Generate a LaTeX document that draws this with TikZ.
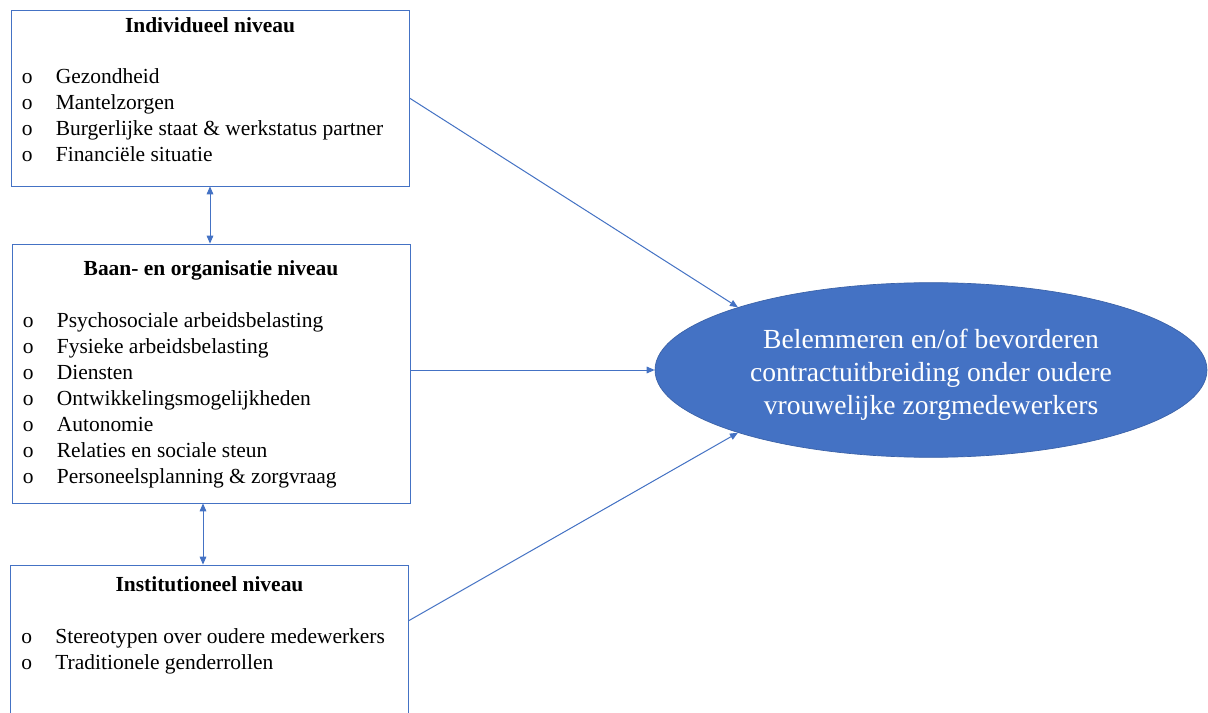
\documentclass[tikz,border=0pt]{standalone}
\usepackage{fontspec}
\setmainfont{Liberation Serif}
\usetikzlibrary{positioning,calc,arrows.meta,shapes.geometric}

\definecolor{wordblue}{RGB}{68,114,196}
\newcommand{\lvlitem}[1]{\makebox[25.5pt][l]{o}#1}

\begin{document}
\begin{tikzpicture}[x=0.75pt,y=0.75pt,yscale=-1,xscale=1,
  levelbox/.style={draw=wordblue, line width=0.6pt, minimum width=298.5pt, inner sep=0pt},
  leveltitle/.style={inner sep=0pt, font=\fontsize{16.1}{19.5}\selectfont\bfseries},
  levellist/.style={inner sep=0pt, anchor=north west, align=left, font=\fontsize{16.1}{19.5}\selectfont},
  flow/.style={draw=wordblue, line width=0.75pt, -{Triangle[length=6pt,width=5pt]}},
  link/.style={draw=wordblue, line width=0.75pt, {Triangle[length=6pt,width=5pt]}-{Triangle[length=6pt,width=5pt]}}
]
\clip (0,0) rectangle (1208,713);
\fill[white] (0,0) rectangle (1208,713);

%Levels
\node[levelbox, minimum height=132pt] (indiv) at (210,98) {};
\node[levelbox, minimum height=194.25pt] (job) at (211,373.5) {};
\node[levelbox, minimum height=120pt] (inst) at (209.5,645) {};

%Titles
\node[leveltitle] (indivtitle) at ($(indiv.north)+(0,16)$) {Individueel niveau};
\node[leveltitle] (jobtitle) at ($(job.north)+(0,27)$) {Baan- en organisatie niveau};
\node[leveltitle] (insttitle) at ($(inst.north)+(0,20)$) {Institutioneel niveau};

%Lists
\node[levellist] (indivlist) at ($(indiv.north west)+(11,59)$) {%
  \lvlitem{Gezondheid}\\
  \lvlitem{Mantelzorgen}\\
  \lvlitem{Burgerlijke staat \& werkstatus partner}\\
  \lvlitem{Financiële situatie}};
\node[levellist] (joblist) at ($(job.north west)+(11,69)$) {%
  \lvlitem{Psychosociale arbeidsbelasting}\\
  \lvlitem{Fysieke arbeidsbelasting}\\
  \lvlitem{Diensten}\\
  \lvlitem{Ontwikkelingsmogelijkheden}\\
  \lvlitem{Autonomie}\\
  \lvlitem{Relaties en sociale steun}\\
  \lvlitem{Personeelsplanning \& zorgvraag}};
\node[levellist] (instlist) at ($(inst.north west)+(11,64)$) {%
  \lvlitem{Stereotypen over oudere medewerkers}\\
  \lvlitem{Traditionele genderrollen}};

%Outcome
\node[ellipse, fill=wordblue, draw=wordblue!85!black, line width=0.5pt,
  minimum width=414pt, minimum height=131pt] (outcome) at (931,370) {};
\node[align=center, text=white, font=\fontsize{20.7}{24.75}\selectfont] (outcometext)
  at ($(outcome.center)+(0,5)$)
  {Belemmeren en/of bevorderen\\contractuitbreiding onder oudere\\vrouwelijke zorgmedewerkers};

%Connectors
\coordinate (lowlink) at (203,0);
\draw[flow] (indiv.east) -- (outcome.162);
\draw[flow] (job.east |- outcome.west) -- (outcome.west);
\draw[flow] ($(inst.north east)+(0,56)$) -- (outcome.198);
\draw[link] (indiv.south) -- (indiv.south |- job.north);
\draw[link] (job.south -| lowlink) -- (inst.north -| lowlink);
\end{tikzpicture}
\end{document}
